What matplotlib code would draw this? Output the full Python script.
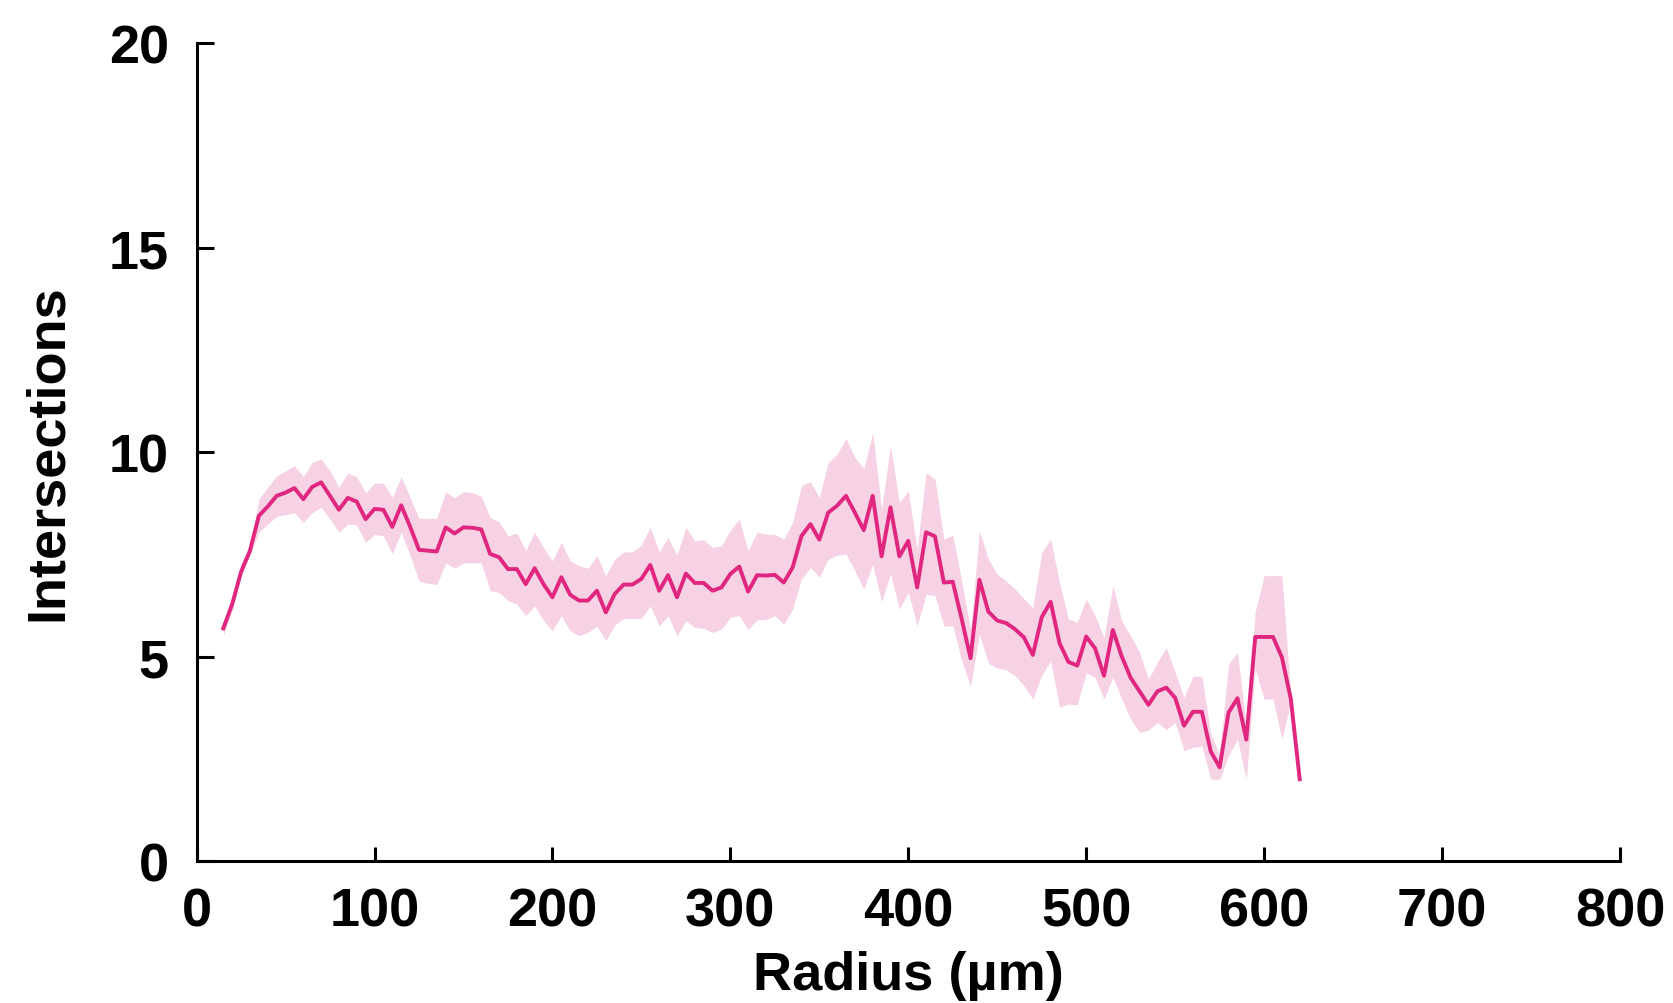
import matplotlib
matplotlib.use("Agg")
import matplotlib.pyplot as plt

plt.rcParams['font.family'] = ['Liberation Sans', 'DejaVu Sans']
plt.rcParams['font.weight'] = 'bold'

# Sholl profile: radius (um), mean intersections and the shaded band
radius = [15, 20, 25, 30, 35, 40, 45, 50, 55, 60, 65, 70, 75, 80, 85, 90, 95, 100,
          105, 110, 115, 120, 125, 130, 135, 140, 145, 150, 155, 160, 165, 170, 175, 180,
          185, 190, 195, 200, 205, 210, 215, 220, 225, 230, 235, 240, 245, 250, 255, 260,
          265, 270, 275, 280, 285, 290, 295, 300, 305, 310, 315, 320, 325, 330, 335, 340,
          345, 350, 355, 360, 365, 370, 375, 380, 385, 390, 395, 400, 405, 410, 415, 420,
          425, 430, 435, 440, 445, 450, 455, 460, 465, 470, 475, 480, 485, 490, 495, 500,
          505, 510, 515, 520, 525, 530, 535, 540, 545, 550, 555, 560, 565, 570, 575, 580,
          585, 590, 595, 600, 605, 610, 615, 620]

mean_int = [5.69, 6.28, 7.07, 7.59, 8.44, 8.67, 8.93, 9.01, 9.12, 8.85, 9.15, 9.26, 8.93, 8.59,
            8.88, 8.79, 8.36, 8.61, 8.59, 8.17, 8.70, 8.18, 7.61, 7.59, 7.57, 8.16, 8.01, 8.16,
            8.15, 8.11, 7.51, 7.43, 7.14, 7.14, 6.77, 7.16, 6.77, 6.45, 6.94, 6.51, 6.37, 6.37,
            6.61, 6.08, 6.53, 6.76, 6.76, 6.90, 7.24, 6.61, 6.99, 6.45, 7.03, 6.80, 6.80, 6.61,
            6.69, 7.02, 7.20, 6.59, 6.99, 6.98, 7.00, 6.81, 7.18, 7.95, 8.24, 7.86, 8.52, 8.69,
            8.93, 8.52, 8.09, 8.93, 7.45, 8.65, 7.45, 7.83, 6.69, 8.04, 7.94, 6.81, 6.83, 5.92,
            4.96, 6.88, 6.10, 5.88, 5.82, 5.67, 5.47, 5.04, 5.96, 6.34, 5.33, 4.87, 4.78, 5.49,
            5.20, 4.53, 5.65, 5.00, 4.48, 4.15, 3.82, 4.15, 4.24, 3.99, 3.31, 3.65, 3.65, 2.68,
            2.29, 3.63, 3.98, 2.97, 5.48, 5.48, 5.48, 4.98, 3.97, 2.00]

upper = [5.79, 6.45, 7.30, 7.71, 8.85, 9.14, 9.42, 9.54, 9.67, 9.40, 9.75, 9.83, 9.54, 9.14,
         9.49, 9.40, 9.00, 9.24, 9.24, 8.89, 9.40, 8.89, 8.38, 8.38, 8.38, 9.03, 8.88, 9.03,
         9.01, 8.92, 8.40, 8.30, 7.95, 8.02, 7.59, 8.04, 7.67, 7.34, 7.79, 7.34, 7.22, 7.16,
         7.47, 6.98, 7.38, 7.56, 7.56, 7.73, 8.16, 7.56, 7.91, 7.47, 8.16, 7.83, 7.86, 7.67,
         7.71, 8.09, 8.36, 7.59, 8.04, 7.99, 7.99, 7.87, 8.28, 9.19, 9.27, 8.89, 9.75, 9.95,
         10.33, 9.87, 9.60, 10.48, 8.61, 10.15, 8.77, 9.05, 7.63, 9.50, 9.34, 7.87, 7.97, 6.85,
         5.65, 8.08, 7.38, 7.02, 6.85, 6.65, 6.41, 6.20, 7.55, 7.87, 6.81, 5.92, 5.84, 6.41,
         6.00, 5.47, 6.73, 5.86, 5.51, 5.10, 4.45, 4.86, 5.22, 4.61, 4.00, 4.52, 4.52, 3.10,
         2.60, 4.82, 5.10, 3.30, 6.10, 6.98, 6.98, 6.98, 4.05, 2.00]

lower = [5.51, 6.12, 6.98, 7.47, 8.04, 8.24, 8.43, 8.47, 8.52, 8.28, 8.52, 8.65, 8.36, 8.04,
         8.24, 8.22, 7.79, 7.99, 7.95, 7.51, 8.04, 7.47, 6.85, 6.79, 6.76, 7.29, 7.16, 7.29,
         7.29, 7.29, 6.61, 6.57, 6.37, 6.28, 6.00, 6.24, 5.88, 5.63, 6.00, 5.63, 5.51, 5.59,
         5.75, 5.39, 5.77, 5.93, 5.93, 5.93, 6.24, 5.75, 6.00, 5.51, 5.88, 5.71, 5.69, 5.59,
         5.67, 5.96, 6.00, 5.66, 5.90, 5.91, 6.00, 5.79, 6.16, 6.90, 7.18, 6.94, 7.38, 7.48,
         7.51, 7.10, 6.65, 7.26, 6.34, 7.02, 6.16, 6.57, 5.75, 6.53, 6.49, 5.75, 5.75, 4.90,
         4.27, 5.55, 4.84, 4.72, 4.68, 4.53, 4.29, 3.96, 4.53, 4.90, 3.76, 3.84, 3.82, 4.61,
         4.49, 3.96, 4.50, 3.96, 3.47, 3.15, 3.20, 3.39, 3.21, 3.39, 2.70, 2.78, 2.81, 2.00,
         2.00, 2.58, 2.98, 2.00, 4.70, 3.96, 3.96, 2.98, 3.90, 2.00]

x_ticks = [0, 100, 200, 300, 400, 500, 600, 700, 800]
y_ticks = [0, 5, 10, 15, 20]

fig = plt.figure(figsize=(16.73, 10.04), dpi=100)
ax = fig.add_axes([0.1175, 0.1414, 0.8508, 0.8146])

ax.fill_between(radius, lower, upper, color='#F6D2E4', linewidth=0)
ax.plot(radius, mean_int, color='#E0267E', linewidth=2.8)

ax.set_xlim(0, 800)
ax.set_ylim(0, 20)
ax.set_xticks(x_ticks)
ax.set_yticks(y_ticks)

for s in ['top', 'right']:
    ax.spines[s].set_visible(False)
for s in ['left', 'bottom']:
    ax.spines[s].set_linewidth(2.2)

ax.tick_params(axis='x', direction='in', length=10, width=2.2, labelsize=39, pad=18)
ax.tick_params(axis='y', direction='in', length=12, width=2.2, labelsize=39, pad=20)
for lab in ax.get_xticklabels() + ax.get_yticklabels():
    lab.set_fontweight('bold')

ax.set_xlabel('Radius (µm)', fontsize=39, fontweight='bold', labelpad=10)
ax.set_ylabel('Intersections', fontsize=39, fontweight='bold', labelpad=26)

fig.savefig('out.png', dpi=100)
